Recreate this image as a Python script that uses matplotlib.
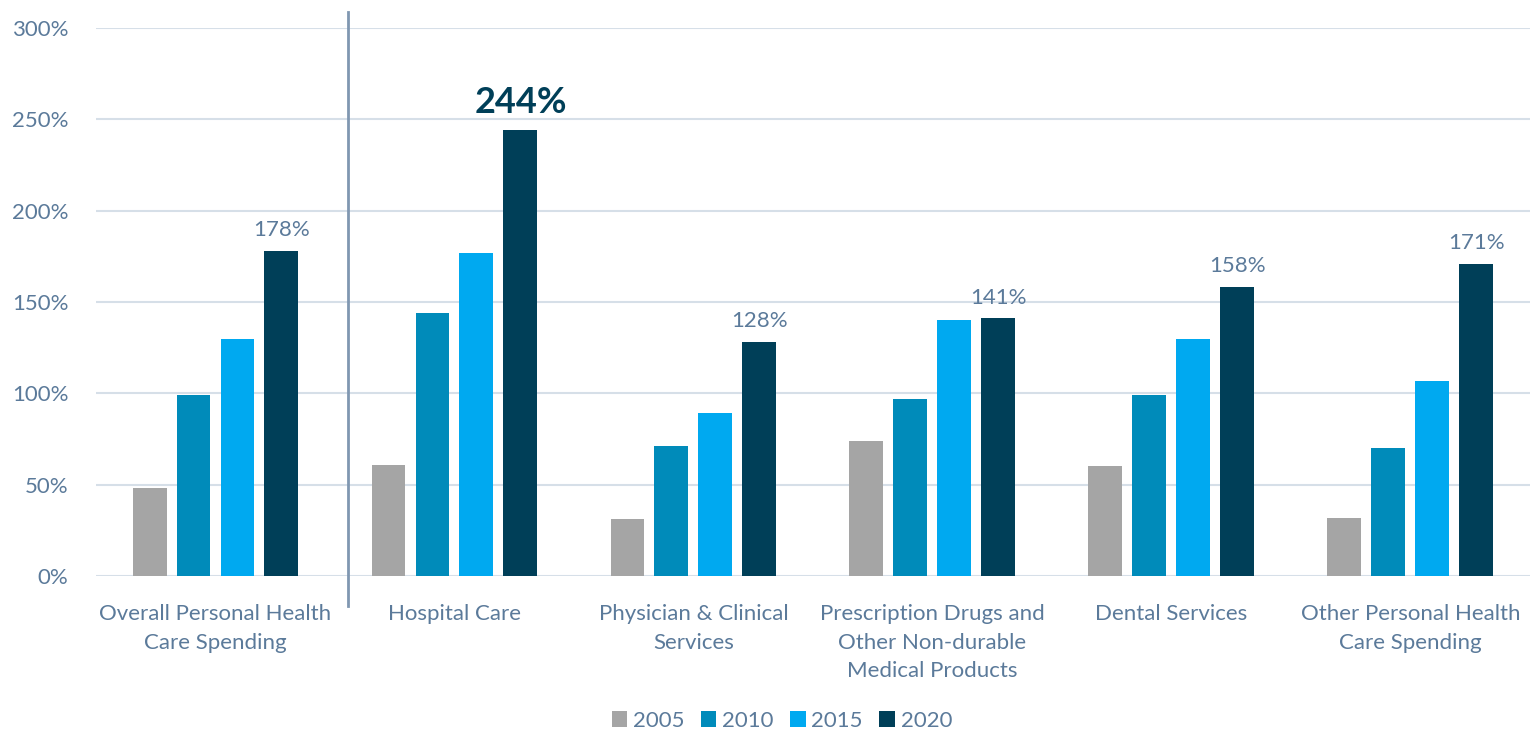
import numpy as np
import matplotlib.pyplot as plt
from matplotlib.lines import Line2D

plt.rcParams['font.family'] = ['Lato', 'DejaVu Sans']

categories = ["Overall Personal Health\nCare Spending", "Hospital Care",
              "Physician & Clinical\nServices",
              "Prescription Drugs and\nOther Non-durable\nMedical Products",
              "Dental Services", "Other Personal Health\nCare Spending"]
years = ["2005", "2010", "2015", "2020"]
v2005 = [48, 61, 31, 74, 60, 32]
v2010 = [99, 144, 71, 97, 99, 70]
v2015 = [130, 177, 89, 140, 130, 107]
v2020 = [178, 244, 128, 141, 158, 171]

colors = ["#a5a5a5", "#008bba", "#00a9f0", "#003f58"]
text_col = "#5b7a9a"

fig = plt.figure(figsize=(15.39, 7.32), dpi=100)
ax = fig.add_axes([0.0624, 0.2131, 0.9316, 0.7486])

x = np.arange(len(categories))
width = 0.142
step = 0.184
series = [v2005, v2010, v2015, v2020]
for i, vals in enumerate(series):
    ax.bar(x + (i - 1.5) * step, vals, width, color=colors[i], label=years[i], zorder=3)

# value labels on the 2020 bars, hospital care highlighted
for xi, v in zip(x, v2020):
    xp = xi + 1.5 * step
    if v == max(v2020):
        ax.text(xp, v + 6, f"{v}%", ha='center', va='bottom', fontsize=26,
                fontweight='bold', color="#003f58")
    else:
        ax.text(xp, v + 6, f"{v}%", ha='center', va='bottom', fontsize=16, color=text_col)

ax.set_xlim(-0.5, 5.5)
ax.set_ylim(0, 300)
ax.set_yticks(range(0, 301, 50))
ax.set_yticklabels([f"{t}%" for t in range(0, 301, 50)])
ax.set_xticks(x)
ax.set_xticklabels(categories, linespacing=1.55, va='top')
ax.tick_params(axis='both', length=0, labelsize=16, colors=text_col)
ax.tick_params(axis='x', pad=20)
ax.tick_params(axis='y', pad=20)
ax.yaxis.grid(True, color="#d6dfe8", linewidth=1.5, zorder=0)
for s in ax.spines.values():
    s.set_visible(False)

# divider between the overall total and the individual categories
ax.add_line(Line2D([0.1757, 0.1757], [-0.055, 1.03], transform=ax.transAxes,
                   color="#8097b1", linewidth=2, clip_on=False))

leg = fig.legend(loc='center', bbox_to_anchor=(0.508, 0.015), ncol=4, frameon=False,
                 fontsize=16, handlelength=0.7, handleheight=0.7, handletextpad=0.25,
                 columnspacing=0.75)
for t in leg.get_texts():
    t.set_color(text_col)

fig.savefig("out.png", dpi=100)
